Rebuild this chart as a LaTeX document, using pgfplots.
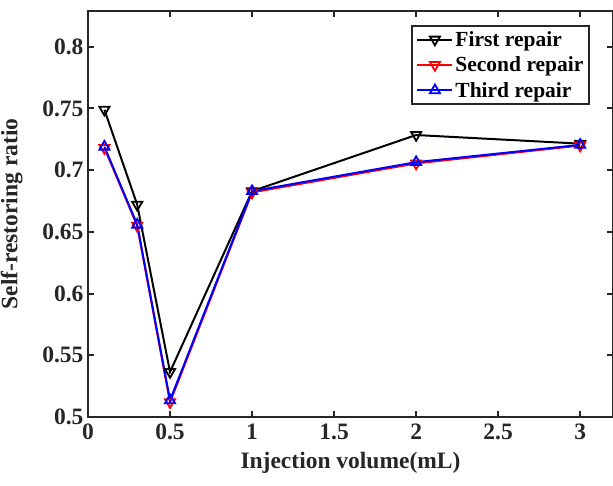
\documentclass[border=0pt]{standalone}
\usepackage{fontspec}
\setmainfont{Liberation Serif}
\usepackage{pgfplots}
\pgfplotsset{compat=1.18}
\definecolor{axisgray}{rgb}{0.15,0.15,0.15}
\definecolor{mred}{rgb}{1,0,0}
\definecolor{mblue}{rgb}{0,0,1}
\begin{document}
\begin{tikzpicture}
\begin{axis}[
  name=ax,
  scale only axis,
  width=525pt, height=406pt,
  xmin=0, xmax=3.2,
  ymin=0.5, ymax=0.829,
  xtick={0,0.5,1,1.5,2,2.5,3},
  ytick={0.5,0.55,0.6,0.65,0.7,0.75,0.8},
  yticklabels={0.5,0.55,0.6,0.65,0.7,0.75,0.8},
  xticklabels={0,0.5,1,1.5,2,2.5,3},
  tick align=inside,
  major tick length=6pt,
  tick style={axisgray, line width=2pt},
  axis line style={axisgray, line width=2.5pt},
  ticklabel style={font=\fontsize{23.5}{27}\selectfont\bfseries, text=axisgray},
  xticklabel style={yshift=-3pt},
  yticklabel style={xshift=-1pt},
  label style={font=\fontsize{23.5}{27}\selectfont\bfseries, text=axisgray},
  xlabel={Injection volume(mL)},
  ylabel={Self-restoring ratio},
  xlabel style={at={(axis description cs:0.5,0)}, anchor=north, yshift=-32pt},
  ylabel style={at={(axis description cs:0,0.5)}, anchor=south, xshift=0pt, yshift=62pt},
  legend style={
    at={(rel axis cs:0.957,0.966)}, anchor=north east,
    draw=axisgray, line width=2pt,
    font=\fontsize{21.5}{24}\selectfont\bfseries,
    row sep=5pt, inner xsep=4pt, inner ysep=3.5pt,
    cells={anchor=west}
  },
  legend image code/.code={
    \draw[mark repeat=2, mark phase=2] plot coordinates {(0pt,0pt) (17.5pt,0pt) (35pt,0pt)};
  },
  every axis plot/.append style={line width=2pt},
  clip=false,
]
\addplot[black, mark=triangle, mark options={rotate=180, solid, line width=1.8pt}, mark size=5.8pt]
  coordinates {(0.1,0.749) (0.3,0.672) (0.5,0.5365) (1,0.683) (2,0.7285) (3,0.7215)};
\addlegendentry{First repair}
\addplot[mred, mark=triangle, mark options={rotate=180, solid, line width=1.8pt}, mark size=5.8pt]
  coordinates {(0.1,0.718) (0.3,0.655) (0.5,0.512) (1,0.682) (2,0.7055) (3,0.720)};
\addlegendentry{Second repair}
\addplot[mblue, mark=triangle, mark options={solid, line width=1.8pt}, mark size=5.8pt]
  coordinates {(0.1,0.719) (0.3,0.6558) (0.5,0.5135) (1,0.683) (2,0.7065) (3,0.7205)};
\addlegendentry{Third repair}
\end{axis}
\pgfresetboundingbox
\path ([shift={(-88pt,-68pt)}]ax.south west) rectangle ([shift={(0pt,11pt)}]ax.north east);
\end{tikzpicture}
\end{document}
